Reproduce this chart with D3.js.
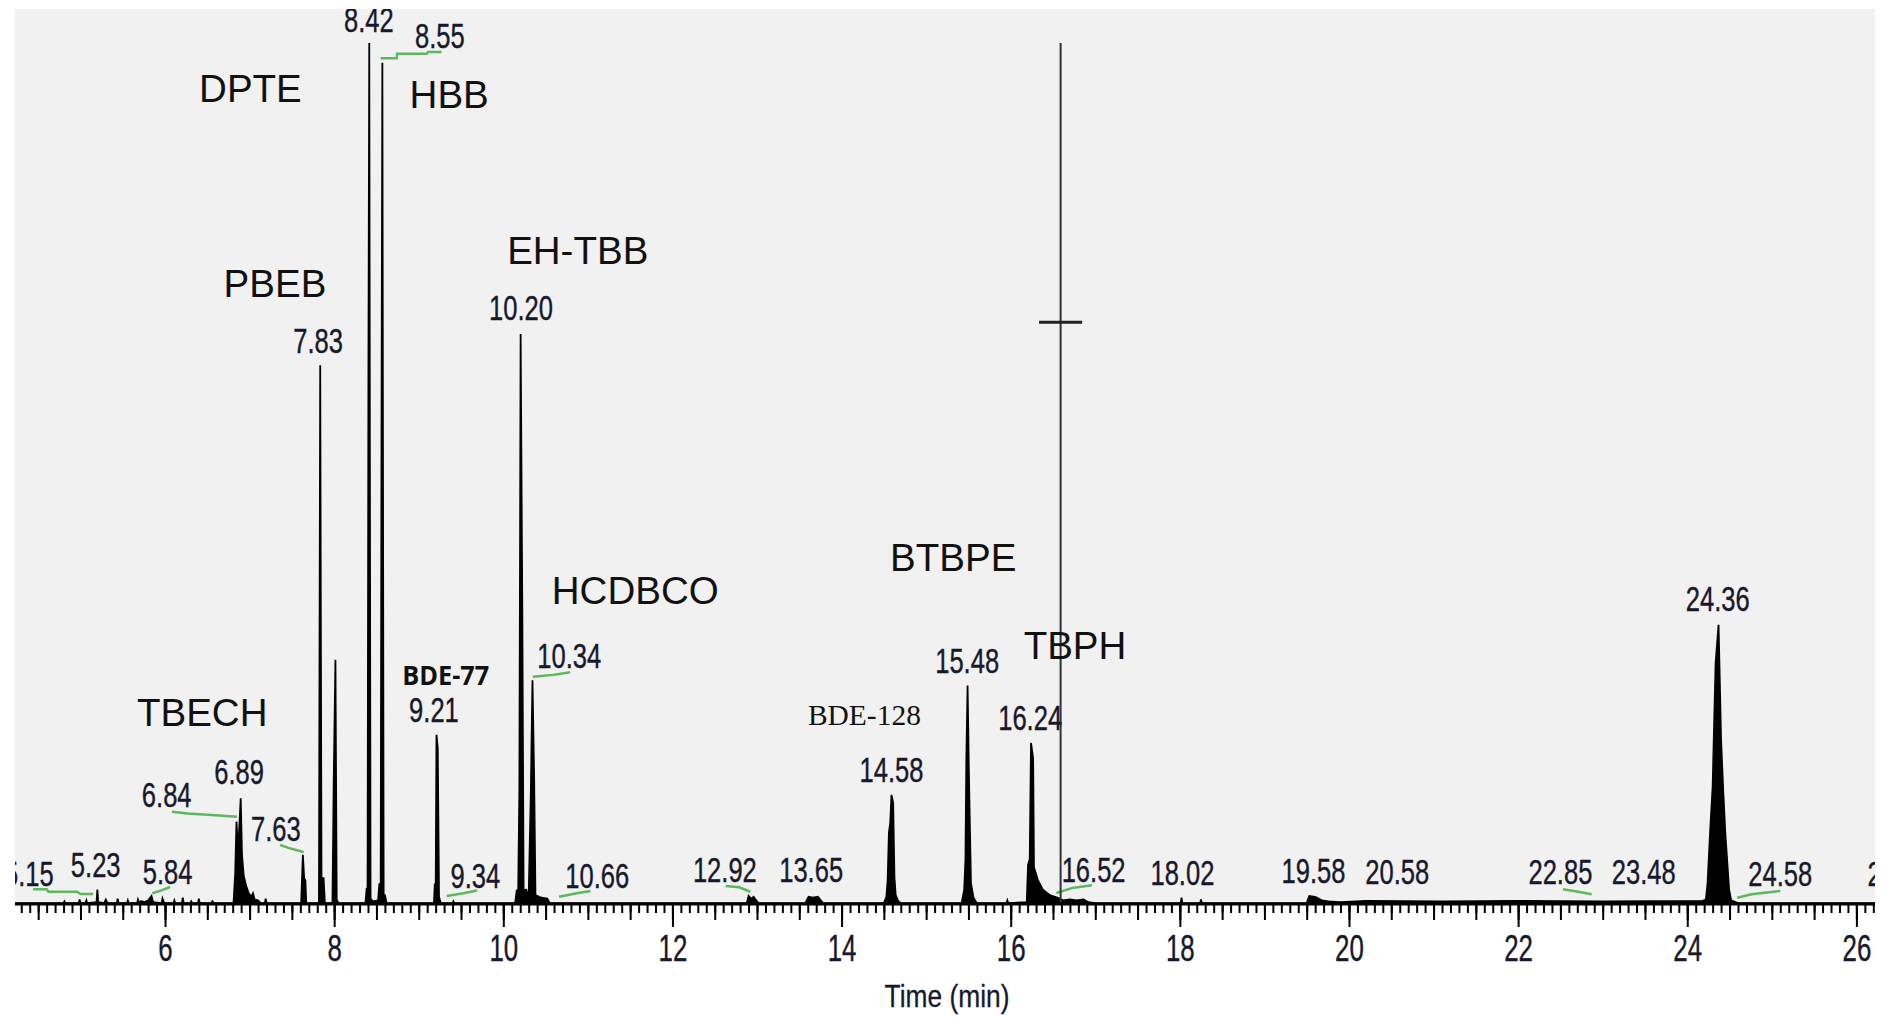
<!DOCTYPE html>
<html>
<head>
<meta charset="utf-8">
<script src="https://cdn.jsdelivr.net/npm/d3@7"></script>
<style>
  html, body { margin: 0; padding: 0; background: #fff; }
  svg { display: block; }
  .peak-label { font-family: "Liberation Sans", Arial, sans-serif; font-size: 35px; fill: #18182c; stroke: #18182c; stroke-width: 0.4; }
  .compound { font-family: "Liberation Sans", Arial, sans-serif; font-size: 38.5px; fill: #111; }
  .axis text { font-family: "Liberation Sans", Arial, sans-serif; font-size: 37px; fill: #18182c; stroke: #18182c; stroke-width: 0.4; }
  .axis line { stroke: #000; stroke-width: 2; }
  .axis path { display: none; }
</style>
</head>
<body>
<svg id="chart"></svg>
<script>
//chromatogram trace: [time (min), relative abundance (%)]
var trace = [
  [4.23, 0.1],
  [4.80, 0.1], [4.81, 0.3], [4.82, 0.1],
  [4.98, 0.1], [4.99, 0.5], [5.00, 0.1],
  [5.06, 0.1], [5.07, 0.4], [5.08, 0.1],
  [5.19, 0.2], [5.20, 1.6], [5.21, 0.2],
  [5.28, 0.1], [5.30, 0.5], [5.32, 0.1],
  [5.43, 0.1], [5.44, 0.6], [5.45, 0.1],
  [5.55, 0.1], [5.56, 0.4], [5.57, 0.1],
  [5.67, 0.1], [5.68, 0.5], [5.69, 0.2], [5.72, 0.3], [5.76, 0.2],
  [5.80, 0.4], [5.84, 0.9], [5.86, 0.2],
  [5.96, 0.1], [5.97, 0.6], [5.99, 0.1],
  [6.10, 0.1], [6.11, 0.4], [6.12, 0.1],
  [6.20, 0.1], [6.21, 0.7], [6.22, 0.1],
  [6.30, 0.1], [6.31, 0.3], [6.32, 0.1],
  [6.39, 0.1], [6.40, 0.6], [6.41, 0.1],
  [6.55, 0.1], [6.56, 0.3], [6.58, 0.1],
  [6.81, 0.1], [6.83, 3.5], [6.845, 9.2], [6.86, 6.5], [6.875, 8.0], [6.895, 11.8], [6.91, 5.5],
  [6.93, 3.2], [6.96, 2.0], [6.99, 1.2], [7.02, 0.8], [7.04, 1.2], [7.06, 0.5], [7.10, 0.4], [7.13, 0.1],
  [7.18, 0.1], [7.19, 0.6], [7.20, 0.1],
  [7.61, 0.1], [7.63, 5.5], [7.645, 2.9], [7.66, 2.6], [7.67, 0.1],
  [7.82, 0.1], [7.835, 60.2], [7.85, 2.9], [7.875, 2.9], [7.89, 0.1],
  [7.98, 0.1], [7.995, 13.9], [8.015, 27.3], [8.03, 0.5], [8.05, 0.1],
  [8.37, 0.1], [8.385, 1.8], [8.395, 0.5], [8.405, 58.9], [8.415, 96.2], [8.43, 0.6], [8.46, 0.3],
  [8.52, 0.4], [8.535, 2.3], [8.55, 0.8], [8.56, 53.0], [8.57, 94.0], [8.585, 1.0], [8.60, 1.0], [8.62, 0.1],
  [9.18, 0.1], [9.19, 2.3], [9.20, 0.5], [9.21, 18.9], [9.225, 17.4], [9.24, 0.8], [9.26, 0.1],
  [9.40, 0.1], [9.41, 0.3], [9.42, 0.1],
  [10.14, 0.1], [10.16, 1.6], [10.175, 0.5], [10.19, 12.7], [10.205, 63.7], [10.225, 32.3], [10.24, 1.5],
  [10.27, 1.6], [10.30, 0.8], [10.325, 12.2], [10.345, 25.0], [10.365, 13.9], [10.38, 1.0],
  [10.45, 0.7], [10.52, 0.6], [10.55, 0.1],
  [12.88, 0.1], [12.90, 0.9], [12.93, 0.6], [12.96, 0.8], [12.99, 0.4], [13.02, 0.1],
  [13.57, 0.1], [13.61, 0.8], [13.66, 0.7], [13.72, 0.8], [13.78, 0.1],
  [14.50, 0.1], [14.53, 0.8], [14.545, 2.7], [14.56, 8.0], [14.575, 9.0], [14.59, 12.2], [14.61, 11.3],
  [14.625, 3.0], [14.64, 1.0], [14.67, 0.3], [14.70, 0.1],
  [15.42, 0.1], [15.45, 1.6], [15.465, 5.0], [15.475, 15.9], [15.49, 24.4], [15.505, 15.0], [15.515, 9.7],
  [15.53, 2.3], [15.56, 0.7], [15.60, 0.1],
  [15.95, 0.1], [15.96, 0.4], [15.97, 0.1],
  [16.19, 0.2], [16.205, 4.4], [16.225, 5.0], [16.24, 18.0], [16.265, 16.3], [16.275, 4.1], [16.32, 2.7],
  [16.38, 1.6], [16.46, 1.0], [16.56, 0.7], [16.62, 0.4], [16.70, 0.5], [16.78, 0.4], [16.86, 0.5],
  [16.92, 0.2], [17.00, 0.1],
  [18.01, 0.1], [18.02, 0.7], [18.03, 0.1],
  [18.24, 0.1], [18.25, 0.5], [18.26, 0.1],
  [19.50, 0.1], [19.53, 0.9], [19.60, 0.8], [19.68, 0.4], [19.76, 0.3], [19.90, 0.2],
  [20.20, 0.35], [21.10, 0.3], [22.00, 0.35], [23.00, 0.3], [24.18, 0.35],
  [24.22, 0.5], [24.24, 2.3], [24.27, 8.0], [24.30, 13.1], [24.335, 26.9], [24.37, 31.2], [24.40, 18.3],
  [24.425, 12.7], [24.45, 7.9], [24.495, 1.6], [24.52, 0.4],
  [24.60, 0.1], [26.22, 0.1]
];

//retention time labels: [text, time, abundance] (centre of label)
var peakLabels = [
  ["5.15", 4.39, 3.35], ["5.23", 5.18, 4.36], ["5.84", 6.03, 3.58], ["6.84", 6.02, 12.18],
  ["6.89", 6.875, 14.75], ["7.63", 7.31, 8.38], ["7.83", 7.81, 63.0], ["8.42", 8.41, 98.8],
  ["8.55", 9.25, 97.0], ["9.21", 9.18, 21.7], ["9.34", 9.67, 3.13], ["10.20", 10.21, 66.6],
  ["10.34", 10.78, 27.8], ["10.66", 11.11, 3.13], ["12.92", 12.62, 3.8], ["13.65", 13.64, 3.8],
  ["14.58", 14.59, 15.0], ["15.48", 15.485, 27.15], ["16.24", 16.23, 20.8], ["16.52", 16.98, 3.8],
  ["18.02", 18.03, 3.46], ["19.58", 19.58, 3.69], ["20.58", 20.57, 3.58], ["22.85", 22.50, 3.58],
  ["23.48", 23.485, 3.58], ["24.36", 24.36, 34.1], ["24.58", 25.10, 3.35], ["26.51", 26.51, 3.35]
];

//compound names: [name, time, abundance]
var compounds = [
  ["DPTE", 7.01, 91.1], ["HBB", 9.36, 90.5], ["PBEB", 7.30, 69.4], ["EH-TBB", 10.88, 73.0],
  ["TBECH", 6.44, 21.45], ["HCDBCO", 11.56, 35.1], ["BTBPE", 15.32, 38.8], ["TBPH", 16.76, 28.9]
];
var bdeNames = [["BDE-77", 9.32, 25.6], ["BDE-128", 14.27, 21.1]];

//integration baseline marks (green)
var baselineMarks = [
  [[4.44, 1.64], [4.60, 1.64], [4.62, 1.37], [4.96, 1.37], [5.00, 1.12], [5.15, 1.12]],
  [[5.85, 1.2], [5.95, 1.5], [6.06, 1.9]],
  [[6.08, 10.3], [6.27, 10.1], [6.64, 9.9], [6.85, 9.75]],
  [[7.36, 6.6], [7.45, 6.3], [7.56, 6.0], [7.64, 5.8]],
  [[8.55, 94.5], [8.74, 94.5], [8.745, 95.0], [9.095, 95.0], [9.11, 95.2], [9.27, 95.2]],
  [[9.33, 0.9], [9.53, 1.2], [9.69, 1.5]],
  [[10.35, 25.4], [10.59, 25.6], [10.79, 25.9]],
  [[10.66, 0.8], [10.87, 1.2], [11.03, 1.45]],
  [[12.63, 2.0], [12.79, 1.87], [12.92, 1.37]],
  [[16.54, 1.23], [16.73, 1.8], [16.96, 2.1]],
  [[22.53, 1.64], [22.71, 1.37], [22.87, 1.08]],
  [[24.59, 0.7], [24.76, 1.08], [25.10, 1.45]]
];

//cursor marker
var cursorTime = 16.59;
var cursorTop = 96.2;
var cursorMark = 65.0;
var cursorHalf = 0.255;

var majorTicks = [6, 8, 10, 12, 14, 16, 18, 20, 22, 24, 26];
var timeDomain = [4.226, 26.22];

var w = 1885;
var h = 1019;
var plot = { left: 15, right: 1875, top: 9, bottom: 904 };

var svg = d3.select("#chart")
  .attr("width", w)
  .attr("height", h);

var xScale = d3.scaleLinear()
  .domain(timeDomain)
  .range([plot.left, plot.right]);

var yScale = d3.scaleLinear()
  .domain([0, 100])
  .range([plot.bottom, plot.top]);

svg.append("rect")
  .attr("x", plot.left)
  .attr("y", plot.top)
  .attr("width", plot.right - plot.left)
  .attr("height", plot.bottom - plot.top)
  .attr("fill", "#f1f1f1");

svg.append("clipPath")
  .attr("id", "clip")
  .append("rect")
  .attr("x", plot.left)
  .attr("y", plot.top)
  .attr("width", plot.right - plot.left)
  .attr("height", plot.bottom - plot.top + 2);

var g = svg.append("g").attr("clip-path", "url(#clip)");

//trace as filled area + outline
var area = d3.area()
  .x(function(d) { return xScale(d[0]); })
  .y0(yScale(0))
  .y1(function(d) { return yScale(d[1]); });
var line = d3.line()
  .x(function(d) { return xScale(d[0]); })
  .y(function(d) { return yScale(d[1]); });

g.append("path")
  .datum(trace)
  .attr("d", area)
  .attr("fill", "#000");
g.append("path")
  .datum(trace)
  .attr("d", line)
  .attr("fill", "none")
  .attr("stroke", "#000")
  .attr("stroke-width", 1.8);

//green baseline marks
g.selectAll(".mark")
  .data(baselineMarks)
  .enter()
  .append("path")
  .attr("class", "mark")
  .attr("d", line)
  .attr("fill", "none")
  .attr("stroke", "#5cb85c")
  .attr("stroke-width", 2.5);

//cursor
g.append("line")
  .attr("x1", xScale(cursorTime))
  .attr("x2", xScale(cursorTime))
  .attr("y1", yScale(0))
  .attr("y2", yScale(cursorTop))
  .attr("stroke", "#333")
  .attr("stroke-width", 2);
g.append("line")
  .attr("x1", xScale(cursorTime - cursorHalf))
  .attr("x2", xScale(cursorTime + cursorHalf))
  .attr("y1", yScale(cursorMark))
  .attr("y2", yScale(cursorMark))
  .attr("stroke", "#222")
  .attr("stroke-width", 3);

//retention time labels
g.selectAll(".peak-label")
  .data(peakLabels)
  .enter()
  .append("text")
  .attr("class", "peak-label")
  .attr("text-anchor", "middle")
  .attr("transform", function(d) {
    return "translate(" + xScale(d[1]) + "," + (yScale(d[2]) + 12.4) + ") scale(0.73,1)";
  })
  .text(function(d) { return d[0]; });

//compound names
g.selectAll(".compound")
  .data(compounds)
  .enter()
  .append("text")
  .attr("class", "compound")
  .attr("text-anchor", "middle")
  .attr("x", function(d) { return xScale(d[1]); })
  .attr("y", function(d) { return yScale(d[2]) + 13.8; })
  .text(function(d) { return d[0]; });

g.selectAll(".bde")
  .data(bdeNames)
  .enter()
  .append("text")
  .attr("class", "bde")
  .attr("text-anchor", "middle")
  .attr("x", function(d) { return xScale(d[1]); })
  .attr("y", function(d) { return yScale(d[2]) + 10; })
  .attr("font-family", function(d, i) {
    return i == 0 ? "'Open Sans', 'Liberation Sans', sans-serif" : "'Liberation Serif', 'Times New Roman', serif";
  })
  .attr("font-weight", function(d, i) { return i == 0 ? "bold" : "normal"; })
  .attr("font-size", function(d, i) { return i == 0 ? 26 : 29; })
  .attr("textLength", function(d, i) { return i == 0 ? 87 : 113; })
  .attr("lengthAdjust", "spacingAndGlyphs")
  .attr("fill", "#111")
  .text(function(d) { return d[0]; });

//axis: minor, medium and major ticks
var minorTicks = d3.range(43, 263).map(function(i) { return i / 10; });
var mediumTicks = d3.range(9, 53).map(function(i) { return i / 2; });

svg.append("g")
  .attr("class", "axis")
  .attr("transform", "translate(0," + (plot.bottom + 1) + ")")
  .call(d3.axisBottom(xScale).tickValues(minorTicks).tickSize(8).tickFormat(""));
svg.append("g")
  .attr("class", "axis")
  .attr("transform", "translate(0," + (plot.bottom + 1) + ")")
  .call(d3.axisBottom(xScale).tickValues(mediumTicks).tickSize(15).tickFormat(""));
var major = svg.append("g")
  .attr("class", "axis")
  .attr("transform", "translate(0," + (plot.bottom + 1) + ")")
  .call(d3.axisBottom(xScale).tickValues(majorTicks).tickSize(22).tickFormat(d3.format("d")));
major.selectAll("text")
  .attr("y", 0)
  .attr("dy", 0)
  .attr("transform", "translate(0,56) scale(0.7,1)");

//baseline
svg.append("line")
  .attr("x1", plot.left)
  .attr("x2", plot.right)
  .attr("y1", plot.bottom)
  .attr("y2", plot.bottom)
  .attr("stroke", "#000")
  .attr("stroke-width", 3);

//axis title
svg.append("text")
  .text("Time (min)")
  .attr("text-anchor", "middle")
  .attr("font-family", "'Liberation Sans', Arial, sans-serif")
  .attr("font-size", 31)
  .attr("fill", "#18182c")
  .attr("stroke", "#18182c")
  .attr("stroke-width", 0.3)
  .attr("transform", "translate(" + ((plot.left + plot.right) / 2 + 2) + ",1007) scale(0.85,1)");
</script>
</body>
</html>
